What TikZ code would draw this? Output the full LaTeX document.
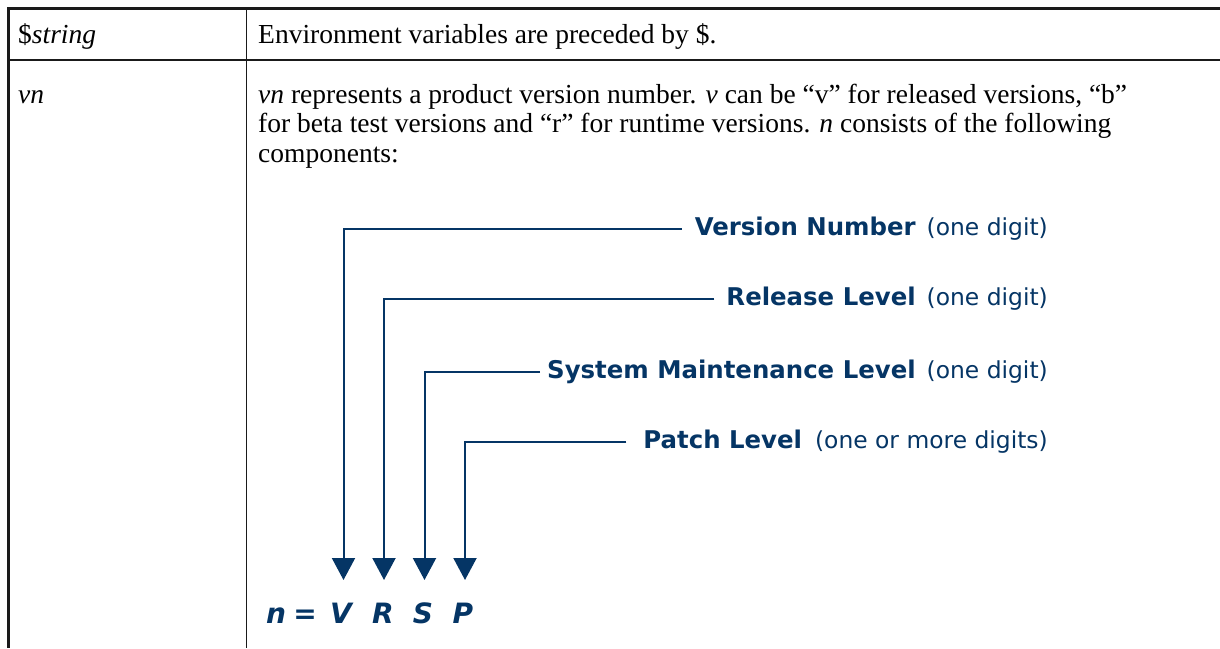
\documentclass[tikz,border=0pt]{standalone}
\usepackage{fontspec}
\setmainfont{Liberation Serif}
\newfontfamily\dvs{DejaVu Sans}
\usetikzlibrary{arrows.meta}
\definecolor{navy}{HTML}{053565}
\definecolor{rule}{HTML}{1A1A1A}
\tikzset{
  cell/.style={anchor=base west, inner sep=0pt, font=\fontsize{27.5}{29}\selectfont, text=black},
  lbl/.style={anchor=east, inner sep=0pt, text=navy, font=\dvs\fontsize{24.4}{26}\selectfont},
  formula/.style={anchor=base, inner sep=0pt, text=navy, font=\dvs\bfseries\itshape\fontsize{28}{30}\selectfont},
  conn/.style={draw=navy, line width=2pt, -{Triangle[width=23pt,length=22pt]}},
  thick rule/.style={draw=rule, line width=3pt},
  thin rule/.style={draw=rule, line width=1.3pt}
}
\newcommand{\lightpart}[1]{{\fontsize{23.4}{26}\selectfont #1}}
\begin{document}
\begin{tikzpicture}[x=1pt,y=-1pt]
\useasboundingbox (0,0) rectangle (1220,648);
% table rules
\draw[thin rule] (8.7,60) -- (1220,60);
\draw[thin rule] (246.7,8.7) -- (246.7,648);
\draw[thick rule] (7.2,8.7) -- (1220,8.7);
\draw[thick rule] (8.7,7.2) -- (8.7,648);
% cells
\node[cell] (c1r1) at (18,43) {\$\textit{string}};
\node[cell] (c2r1) at (258,43) {Environment variables are preceded by \$.};
\node[cell] (c1r2) at (18,103) {\textit{vn}};
\node[cell] (c2l1) at (258,103) {\textit{vn} represents a product version number. \textit{v} can be “v” for released versions, “b”};
\node[cell] (c2l2) at (258,132.5) {for beta test versions and “r” for runtime versions. \textit{n} consists of the following};
\node[cell] (c2l3) at (258,162) {components:};
% labels
\node[lbl] (lblV) at (1048,229) {\textbf{Version Number}\hspace{11pt}\lightpart{(one digit)}};
\node[lbl] (lblR) at (1048,299) {\textbf{Release Level}\hspace{11pt}\lightpart{(one digit)}};
\node[lbl] (lblS) at (1048,372) {\textbf{System Maintenance Level}\hspace{11pt}\lightpart{(one digit)}};
\node[lbl] (lblP) at (1048,442) {\textbf{Patch Level}\hspace{13pt}\lightpart{(one or more digits)}};
% formula
\node[formula] (fN) at (276,623) {n};
\node[formula] (fEq) at (305,623) {=};
\node[formula] (fV) at (341,623) {V};
\node[formula] (fR) at (383,623) {R};
\node[formula] (fS) at (423,623) {S};
\node[formula] (fP) at (463,623) {P};
% arrow tips
\coordinate (tipV) at (343.5,580);
\coordinate (tipR) at (384,580);
\coordinate (tipS) at (424.5,580);
\coordinate (tipP) at (465,580);
% connectors
\draw[conn, shorten <=13pt] (lblV.west) -| (tipV);
\draw[conn, shorten <=12pt] (lblR.west) -| (tipR);
\draw[conn, shorten <=7pt] (lblS.west) -| (tipS);
\draw[conn, shorten <=17pt] (lblP.west) -| (tipP);
\end{tikzpicture}
\end{document}
